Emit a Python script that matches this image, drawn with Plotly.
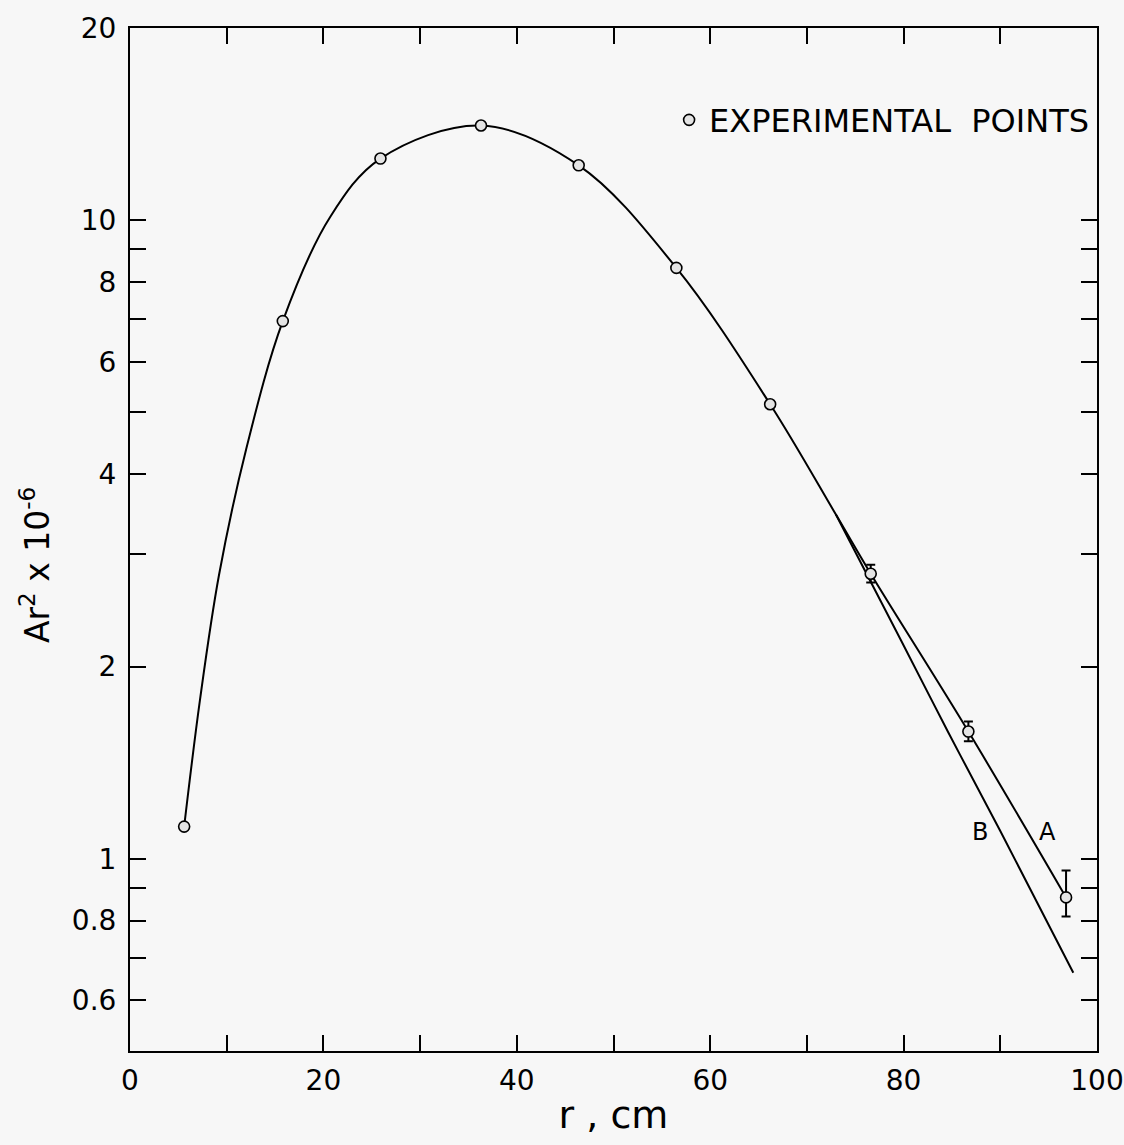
import math
import plotly.graph_objects as go

# Experimental points (r in cm, Ar^2 x 1e-6)
r_points = [5.6, 15.8, 25.9, 36.3, 46.4, 56.5, 66.2]
y_points = [1.123, 6.95, 12.49, 14.07, 12.19, 8.42, 5.15]

# Points with error bars
r_err = [76.6, 86.7, 96.8]
y_err = [2.795, 1.582, 0.870]
err_plus = [0.091, 0.059, 0.089]
err_minus = [0.087, 0.054, 0.058]

# Smooth curve A
curve_a_r = [5.6, 7.24, 9.2, 12.0, 15.8, 20.7, 25.9, 36.3, 46.4, 56.5, 66.2, 73.0,
             76.6, 86.7, 96.8]
curve_a_y = [1.123, 1.775, 2.78, 4.37, 6.95, 10.12, 12.49, 14.07, 12.19, 8.42, 5.15, 3.46,
             2.795, 1.582, 0.870]

# Curve B (branches from A near r = 73)
curve_b_r = [73.0, 79.7, 84.6, 90.0, 97.55]
curve_b_y = [3.46, 2.203, 1.580, 1.105, 0.663]

# Curve labels
label_text = ["A", "B"]
label_r = [94.9, 87.85]
label_y = [1.103, 1.103]

# Axis ticks
y_tickvals = [0.6, 0.7, 0.8, 0.9, 1, 2, 3, 4, 5, 6, 7, 8, 9, 10, 20]
y_ticktext = ["0.6", "", "0.8", "", "1", "2", "", "4", "", "6", "", "8", "", "10", "20"]
x_tickvals = [0, 10, 20, 30, 40, 50, 60, 70, 80, 90, 100]
x_ticktext = ["0", "", "20", "", "40", "", "60", "", "80", "", "100"]

FONT = "DejaVu Sans"
BG = "#f7f7f7"

fig = go.Figure()

fig.add_trace(go.Scatter(x=curve_a_r, y=curve_a_y, mode="lines",
                         line=dict(color="black", width=2, shape="spline", smoothing=1.0),
                         showlegend=False, hoverinfo="skip"))
fig.add_trace(go.Scatter(x=curve_b_r, y=curve_b_y, mode="lines",
                         line=dict(color="black", width=2, shape="spline", smoothing=1.0),
                         showlegend=False, hoverinfo="skip"))

marker_style = dict(symbol="circle", size=11, color="#e4e4e4",
                    line=dict(color="black", width=1.6))

fig.add_trace(go.Scatter(x=r_points, y=y_points, mode="markers",
                         marker=marker_style, name="EXPERIMENTAL  POINTS",
                         showlegend=True))
fig.add_trace(go.Scatter(x=r_err, y=y_err, mode="markers",
                         marker=marker_style,
                         error_y=dict(type="data", symmetric=False, array=err_plus,
                                      arrayminus=err_minus, color="black",
                                      thickness=2, width=4.5),
                         showlegend=False))

for t, rx, ry in zip(label_text, label_r, label_y):
    fig.add_annotation(x=rx, y=math.log10(ry), xref="x", yref="y", text=t, showarrow=False,
                       font=dict(family=FONT, size=24, color="black"))

# y-axis title
fig.add_annotation(x=0, y=0.475, xref="paper", yref="paper", xshift=-95,
                   text="Ar<sup>2</sup> x 10<sup>-6</sup>", textangle=-90,
                   showarrow=False, xanchor="center", yanchor="middle",
                   font=dict(family=FONT, size=33, color="black"))

fig.update_layout(
    width=1124, height=1145,
    margin=dict(l=130, r=27, t=28, b=94),
    paper_bgcolor=BG, plot_bgcolor=BG,
    font=dict(family=FONT, color="black"),
    legend=dict(x=0.997, y=0.91, xanchor="right", yanchor="middle",
                bgcolor="rgba(0,0,0,0)", font=dict(family=FONT, size=32, color="black"),
                itemwidth=30),
)

fig.update_xaxes(range=[0, 100], tickvals=x_tickvals, ticktext=x_ticktext,
                 ticks="inside", ticklen=16, tickwidth=2, tickcolor="black",
                 showline=True, linewidth=2, linecolor="black", mirror="ticks",
                 showgrid=False, zeroline=False, automargin=False,
                 tickfont=dict(family=FONT, size=28, color="black"),
                 ticklabelstandoff=3,
                 title=dict(text="r , cm", standoff=6,
                            font=dict(family=FONT, size=38, color="black")))

fig.update_yaxes(type="log", range=[-0.30103, 1.30103],
                 tickvals=y_tickvals, ticktext=y_ticktext,
                 ticks="inside", ticklen=16, tickwidth=2, tickcolor="black",
                 showline=True, linewidth=2, linecolor="black", mirror="ticks",
                 showgrid=False, zeroline=False, automargin=False,
                 tickfont=dict(family=FONT, size=28, color="black"),
                 ticklabelstandoff=6)

fig.write_html("out.html")
